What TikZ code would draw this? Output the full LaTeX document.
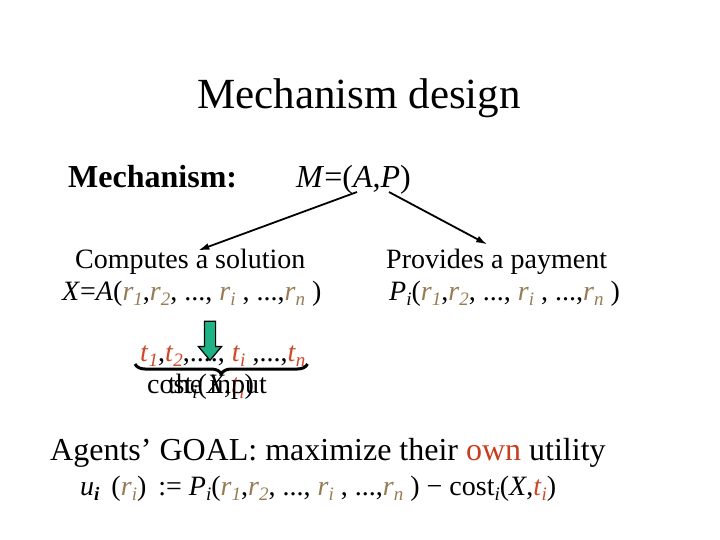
\documentclass[tikz,border=0pt]{standalone}
\usepackage{fontspec}
\setmainfont{Liberation Serif}
\usetikzlibrary{arrows.meta,positioning,shapes.arrows,decorations.pathreplacing}
\definecolor{rcol}{RGB}{150,124,84}
\definecolor{tcol}{RGB}{205,72,40}
\definecolor{owncol}{RGB}{200,62,30}
\definecolor{incol}{RGB}{32,178,135}
\tikzset{every picture/.style={
  >={Latex[length=11pt,width=7pt]}   % Solid arrow heads.
  }
}

% Subscripts, and coloured reports and types.
\newcommand\sub[1]{\raisebox{-5pt}{\fontsize{19}{19}\selectfont\itshape #1}}
\newcommand\rv[1]{{\color{rcol}\textit{r}\sub{#1}}}
\newcommand\tv[1]{{\color{tcol}\textit{t}\sub{#1}}}
\newcommand\sizeA{\fontsize{28}{34}\selectfont}
\newcommand\sizeB{\fontsize{32}{38}\selectfont}

\begin{document}
\begin{tikzpicture}[
    x=1pt, y=-1pt,
    txt/.style={
      inner sep=0pt,
      anchor=base west,
      font=\sizeA
    },
    big/.style={txt, font=\sizeB},
    link/.style={->, line width=1.8pt},
    inarrow/.style={
      single arrow,
      draw=black,
      line width=1.2pt,
      fill=incol,
      rotate=-90,
      minimum height=39pt,
      minimum width=23pt,
      inner xsep=0pt,
      inner ysep=5pt,
      single arrow head extend=6pt,
      single arrow tip angle=80
    }]

    % Page frame.
    \useasboundingbox (0,0) rectangle (720,540);

    % Title.
    \node[inner sep=0pt, anchor=base, font=\fontsize{43}{50}\selectfont]
      (title) at (359,109) {Mechanism design};

    % The mechanism and its two parts.
    \node[big, font=\sizeB\bfseries] (mlabel) at (68,188) {Mechanism:};
    \node[big] (mech) at (296,188) {\textit{M}=(\textit{A},\textit{P})};

    \node[txt] (comp) at (75,268) {Computes a solution};
    \node[txt] (xsol) at (62,300)
      {\textit{X}=\textit{A}(\rv1,\rv2, ..., \rv{i} , ...,\rv{n} )};

    \node[txt] (prov) at (386,268) {Provides a payment};
    \node[txt] (pay) at (389,300)
      {\textit{P}\sub{i}(\rv1,\rv2, ..., \rv{i} , ...,\rv{n} )};

    % Arrows from M=(A,P) to its parts.
    \draw[link] ([xshift=3.5pt,yshift=3pt]mech.south) --
      ([xshift=8pt,yshift=-2pt]comp.north);
    \draw[link] ([xshift=35.5pt,yshift=3pt]mech.south) --
      ([xshift=-9.5pt,yshift=4pt]prov.north);

    % The true types go in.
    \node[inarrow] (inp) at (210,337.5) {};
    \node[txt] (tline) at (140,361)
      {\tv1,\tv2,...., \tv{i} ,...,\tv{n}};
    \draw[decorate, decoration={brace, mirror, amplitude=10pt},
      line width=3pt]
      ([xshift=-5pt,yshift=-3pt]tline.base west) --
      ([xshift=2pt,yshift=-3pt]tline.base east);

    % Two labels on top of each other under the brace.
    \node[txt] (cost) at (147,393)
      {cost\sub{i}(\textit{X},\tv{i})};
    \node[txt] (input) at (168,393) {the input};

    % Agents' goal.
    \node[big] (goal) at (50,460)
      {Agents’ GOAL: maximize their {\color{owncol}own} utility};
    \node[txt] (util) at (80,495)
      {\textit{u}\sub{\bfseries i}\hspace{5pt} ({\color{rcol}\textit{r}\sub{i}})\hspace{5pt} :=
       \textit{P}\sub{i}(\rv1,\rv2, ..., \rv{i} , ...,\rv{n} ) −
       cost\sub{i}(\textit{X},\tv{i})};
  \end{tikzpicture}
\end{document}
